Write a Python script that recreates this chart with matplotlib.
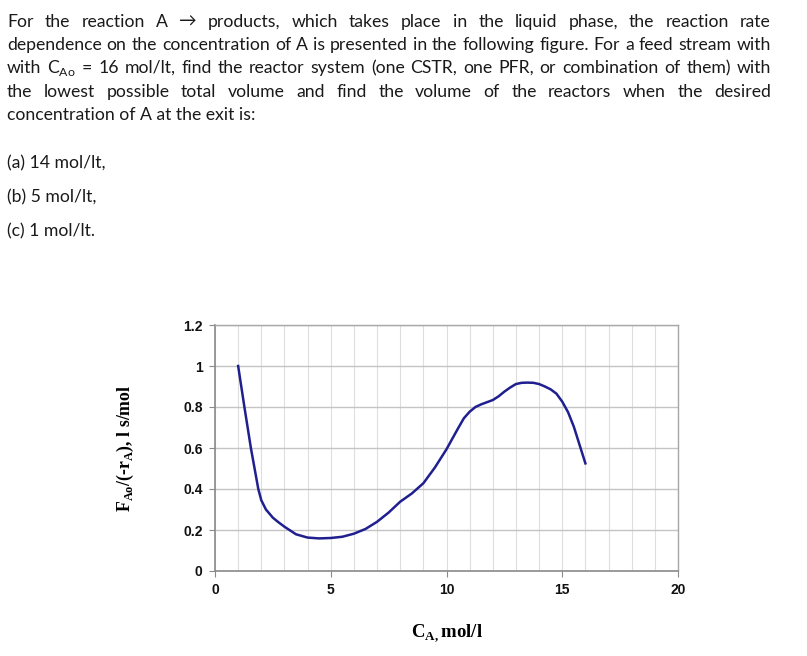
import matplotlib
matplotlib.use('Agg')
import matplotlib.pyplot as plt
from matplotlib.ticker import MultipleLocator

# values
conc = [1.0, 1.27, 1.55, 1.87, 2.0, 2.2, 2.5, 2.75, 3.0, 3.5, 4.0, 4.5, 5.0, 5.5, 6.0,
        6.5, 7.0, 7.5, 8.0, 8.5, 9.0, 9.5, 10.0, 10.5, 10.75, 11.0, 11.25, 11.5, 12.0,
        12.25, 12.5, 12.75, 13.0, 13.25, 13.5, 13.75, 14.0, 14.25, 14.5, 14.75, 15.0,
        15.25, 15.5, 16.0]
fa0_rate = [1.0, 0.8, 0.6, 0.4, 0.345, 0.3, 0.26, 0.237, 0.216, 0.179, 0.163, 0.159, 0.161,
            0.167, 0.182, 0.205, 0.24, 0.285, 0.338, 0.378, 0.428, 0.505, 0.594, 0.696, 0.745,
            0.777, 0.8, 0.813, 0.834, 0.852, 0.875, 0.895, 0.912, 0.918, 0.919, 0.918,
            0.912, 0.9, 0.886, 0.865, 0.826, 0.775, 0.704, 0.525]

xticks = [0, 5, 10, 15, 20]
yticks = [0, 0.2, 0.4, 0.6, 0.8, 1.0, 1.2]
ytick_labels = ['0', '0.2', '0.4', '0.6', '0.8', '1', '1.2']

para_lines = [
    "For the reaction A \u2192 products, which takes place in the liquid phase, the reaction rate",
    "dependence on the concentration of A is presented in the following figure. For a feed stream with",
    "with C$_\\mathregular{Ao}$ = 16 mol/lt, find the reactor system (one CSTR, one PFR, or combination of them) with",
    "the lowest possible total volume and find the volume of the reactors when the desired",
    "concentration of A at the exit is:",
]
parts = ["(a) 14 mol/lt,", "(b) 5 mol/lt,", "(c) 1 mol/lt."]

W, H = 807, 656
fig = plt.figure(figsize=(W / 100, H / 100), dpi=100)
fig.patch.set_facecolor('white')

txt_font = dict(family=['Lato', 'DejaVu Sans'], fontsize=12.7, color='#1a1a1a')
renderer = fig.canvas.get_renderer()

x_left, x_right = 7, 771
line_base = [27, 50, 73, 97, 120]

for i, line in enumerate(para_lines):
    yb = 1 - line_base[i] / H
    if i == len(para_lines) - 1:
        fig.text(x_left / W, yb, line, va='baseline', ha='left', **txt_font)
        continue
    words = line.split(' ')
    # glue the math word back together
    merged = []
    for w in words:
        if merged and merged[-1].count('$') % 2 == 1:
            merged[-1] += ' ' + w
        else:
            merged.append(w)
    objs = [fig.text(0, yb, w, va='baseline', ha='left', **txt_font) for w in merged]
    widths = [o.get_window_extent(renderer).width for o in objs]
    gap = (x_right - x_left - sum(widths)) / (len(objs) - 1)
    x = x_left
    for o, wd in zip(objs, widths):
        o.set_x(x / W)
        x += wd + gap

for j, p in enumerate(parts):
    fig.text(x_left / W, 1 - [168, 202, 236][j] / H, p, va='baseline', ha='left', **txt_font)

# chart
ax = fig.add_axes([215 / W, 1 - 571 / H, (678 - 215) / W, (571 - 325) / H])
ax.plot(conc, fa0_rate, color='#1f1f8f', lw=1.8, solid_joinstyle='round')
ax.set_xlim(0, 20)
ax.set_ylim(0, 1.2)
ax.set_xticks(xticks)
ax.set_yticks(yticks)
ax.set_yticklabels(ytick_labels)
ax.xaxis.set_minor_locator(MultipleLocator(1))
ax.grid(which='major', axis='y', color='#c4c4c4', lw=1.0)
ax.grid(which='minor', axis='x', color='#dedede', lw=0.8)
ax.grid(which='major', axis='x', color='#dedede', lw=0.8)
ax.set_axisbelow(True)
for s in ['left', 'bottom']:
    ax.spines[s].set_color('#8a8a8a')
    ax.spines[s].set_linewidth(1.2)
for s in ['top', 'right']:
    ax.spines[s].set_color('#a8a8a8')
    ax.spines[s].set_linewidth(1.0)
ax.tick_params(which='major', length=4, color='#8a8a8a', pad=5)
ax.tick_params(which='minor', length=0)
for lab in ax.get_xticklabels() + ax.get_yticklabels():
    lab.set_fontfamily('Liberation Sans')
    lab.set_fontweight('bold')
    lab.set_fontsize(10)
    lab.set_color('#111111')

ax.set_xlabel('C$_\\mathregular{A,}$mol/l', fontfamily='Liberation Serif', fontweight='bold',
              fontsize=13.5, labelpad=18)
ax.set_ylabel('F$_\\mathregular{Ao}$/(-r$_\\mathregular{A}$), l s/mol', fontfamily='Liberation Serif',
              fontweight='bold', fontsize=12.8, labelpad=34)

fig.savefig('out.png', dpi=100)
